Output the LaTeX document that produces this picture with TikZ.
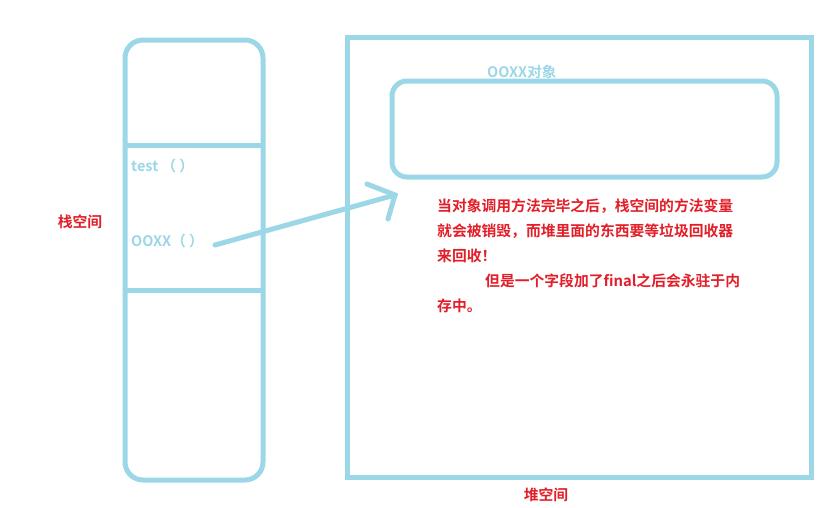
\documentclass[tikz,border=0pt]{standalone}
\usepackage{fontspec}
\newfontfamily\cjk{Noto Sans CJK SC}[BoldFont={Noto Sans CJK SC Bold}]
\definecolor{memblue}{RGB}{155,215,230}
\definecolor{notered}{RGB}{226,30,40}
\begin{document}
\begin{tikzpicture}[x=1pt,y=-1pt,
  frame/.style={draw=memblue,line width=5pt},
  bluetext/.style={text=memblue,font=\cjk\bfseries\fontsize{14.5}{16}\selectfont,inner sep=0pt,anchor=west},
  redtext/.style={text=notered,font=\cjk\bfseries\fontsize{14.8}{25}\selectfont,inner sep=0pt}]
\useasboundingbox (0,0) rectangle (827,507);
% stack column
\draw[frame,rounded corners=18pt] (125,40) rectangle (263,480);
\draw[frame] (125,145) -- (263,145);
\draw[frame] (125,290) -- (263,290);
\node[bluetext] (test) at (131,166) {test （ ）};
\node[bluetext] (ooxx) at (131,241) {OOXX（ ）};
\node[redtext] (stack) at (80,222) {栈空间};
% heap
\draw[frame] (347,37) rectangle (811,477);
\node[draw=memblue,line width=5pt,rounded corners=15pt,minimum width=385pt,minimum height=96pt,inner sep=0pt] (obj) at (584.5,129) {};
\node[bluetext] (objlabel) at (487,72) {OOXX对象};
\node[redtext] (heap) at (546,495) {堆空间};
% reference arrow
\coordinate (tail) at (215,245);
\coordinate (tip) at (395,195);
\draw[memblue,line width=5pt,line cap=round] (tail) -- (tip);
\draw[memblue,line width=5pt,line cap=round] (367,184) -- (tip) -- (388,219);
% note
\node[redtext,anchor=north west,align=left] (note) at (437,199) {当对象调用方法完毕之后，栈空间的方法变量\\就会被销毁，而堆里面的东西要等垃圾回收器\\来回收！\\\hspace*{48pt}但是一个字段加了final之后会永驻于内\\存中。};
\end{tikzpicture}
\end{document}
